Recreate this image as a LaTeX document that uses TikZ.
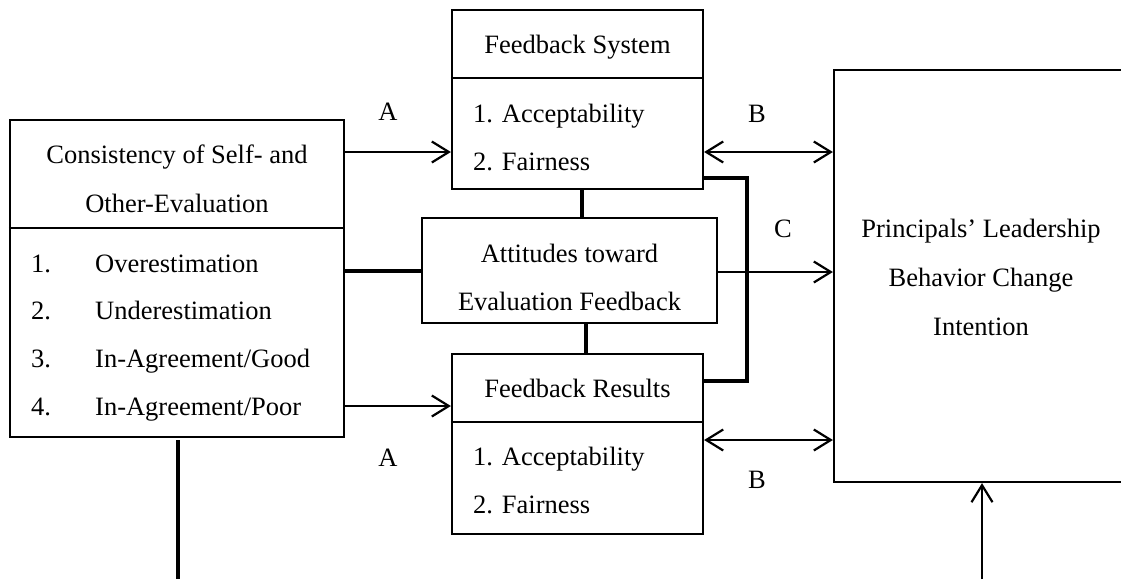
\documentclass[tikz,border=0pt]{standalone}
\usepackage{fontspec}
\setmainfont{Liberation Serif}
\usetikzlibrary{arrows.meta}
\tikzset{
  box/.style={draw, line width=2.2pt, inner sep=0pt},
  txt/.style={anchor=base, inner sep=0pt},
  arr/.style={line width=2.2pt, -{Straight Barb[length=17pt,width=21pt]}},
  darr/.style={line width=2.2pt, {Straight Barb[length=17pt,width=21pt]}-{Straight Barb[length=17pt,width=21pt]}},
  link/.style={line width=4pt},
  sep/.style={line width=2.2pt},
}
\begin{document}
\begin{tikzpicture}[x=1pt, y=-1pt, font=\fontsize{26.5}{49}\selectfont]
\clip (0,0) rectangle (1121,579);

% Consistency box
\node[box, minimum width=334pt, minimum height=317pt] (cons) at (177,278.5) {};
\node[txt] (cons-t1) at (177,163) {Consistency of Self- and};
\node[txt] (cons-t2) at (177,212) {Other-Evaluation};
\draw[sep] (cons.west |- 0,228) -- (cons.east |- 0,228);
\foreach \k/\lbl [count=\i from 0] in {1./Overestimation, 2./Underestimation, 3./{In-Agreement/Good}, 4./{In-Agreement/Poor}}
  {\node[txt, anchor=base west] (num\i) at (31,{272+47.7*\i}) {\k};
   \node[txt, anchor=base west] (item\i) at (95,{272+47.7*\i}) {\lbl};}

% Feedback System
\node[box, minimum width=251pt, minimum height=179pt] (fs) at (577.5,99.5) {};
\node[txt] (fs-title) at (577.5,53) {Feedback System};
\draw[sep] (fs.west |- 0,78) -- (fs.east |- 0,78);
\node[txt, anchor=base west] (fs-a) at (473,122) {1. Acceptability};
\node[txt, anchor=base west] (fs-b) at (473,170) {2. Fairness};

% Attitudes
\node[box, minimum width=295pt, minimum height=105pt] (att) at (569.5,270.5) {};
\node[txt] (att-t1) at (569.5,262) {Attitudes toward};
\node[txt] (att-t2) at (569.5,310) {Evaluation Feedback};

% Feedback Results
\node[box, minimum width=251pt, minimum height=180pt] (fr) at (577.5,444) {};
\node[txt] (fr-title) at (577.5,397) {Feedback Results};
\draw[sep] (fr.west |- 0,422) -- (fr.east |- 0,422);
\node[txt, anchor=base west] (fr-a) at (473,465) {1. Acceptability};
\node[txt, anchor=base west] (fr-b) at (473,513) {2. Fairness};

% Intention
\node[box, minimum width=294pt, minimum height=412pt] (prin) at (981,276) {};
\node[txt] (prin-t1) at (981,237) {Principals' Leadership};
\node[txt] (prin-t2) at (981,286) {Behavior Change};
\node[txt] (prin-t3) at (981,335) {Intention};

% path labels
\node[txt] (la1) at (388,120) {A};
\node[txt] (la2) at (388,466) {A};
\node[txt] (lb1) at (757,122) {B};
\node[txt] (lb2) at (757,488) {B};
\node[txt] (lc) at (783,237) {C};

% connectors
\draw[arr] (cons.east |- 0,152) -- (fs.west |- 0,152);
\draw[arr] (cons.east |- 0,406) -- (fr.west |- 0,406);
\draw[link] (cons.east |- 0,271) -- (att.west |- 0,271);
\draw[arr] (att.east |- 0,272) -- (prin.west |- 0,272);
\draw[darr] (fs.east |- 0,152) -- (prin.west |- 0,152);
\draw[darr] (fr.east |- 0,440) -- (prin.west |- 0,440);
\draw[link] (582,0 |- fs.south) -- (582,0 |- att.north);
\draw[link] (586,0 |- att.south) -- (586,0 |- fr.north);
\draw[link] (fs.east |- 0,178) -| (747,381) -- (fr.east |- 0,381);

\coordinate (low1) at (178,579);
\coordinate (low2) at (982,579);
\draw[link] (178,440) -- (low1);
\draw[arr] (low2) -- (low2 |- prin.south);

\end{tikzpicture}
\end{document}
